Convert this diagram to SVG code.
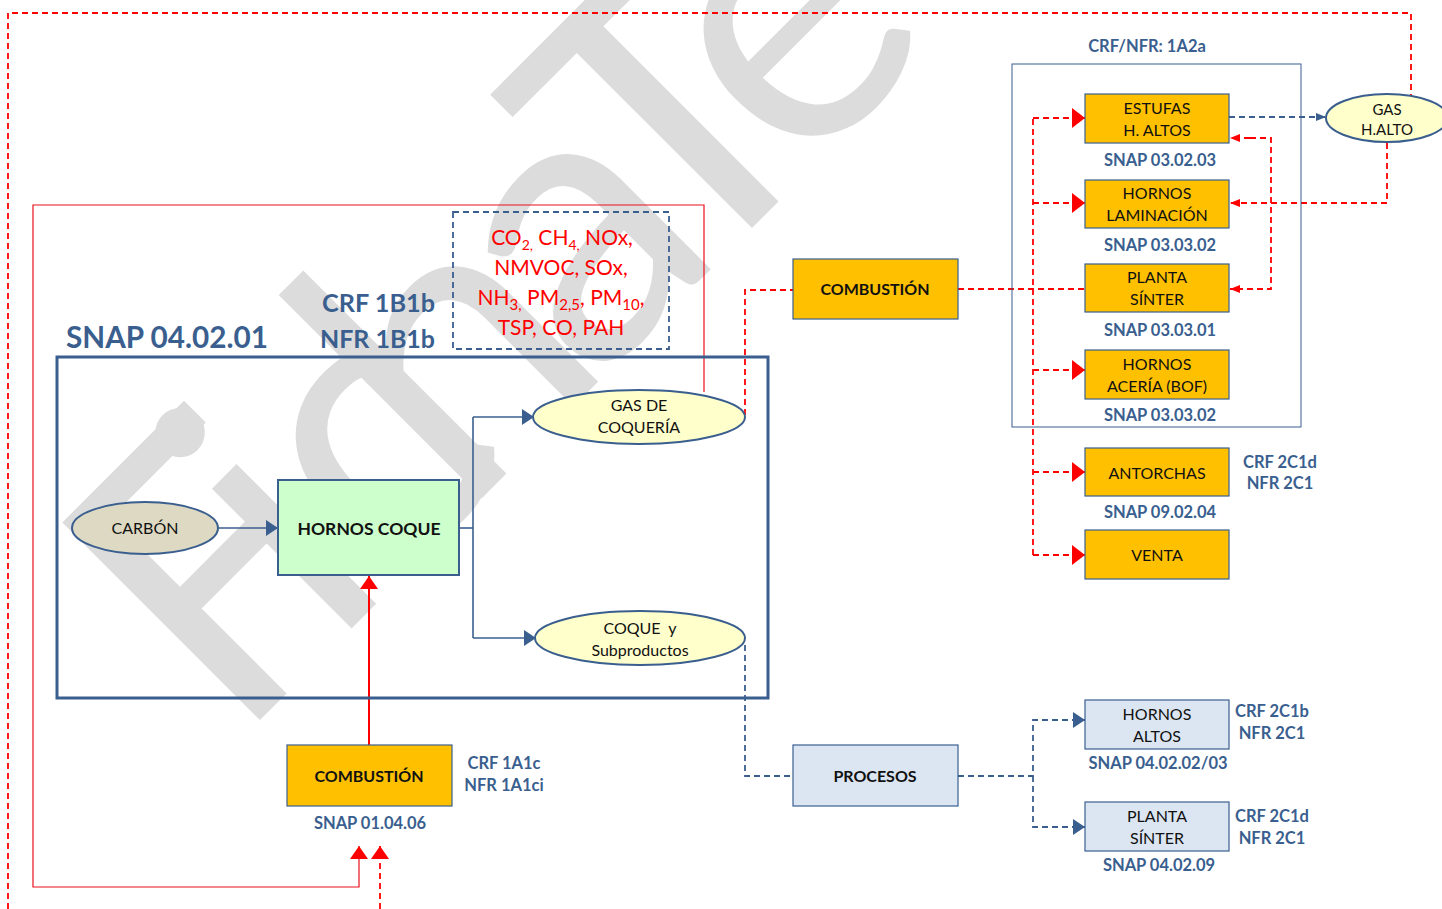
<svg xmlns="http://www.w3.org/2000/svg" width="1442" height="909" viewBox="0 0 1442 909">
<style>
text{font-family:Lato,"Open Sans","Liberation Sans",sans-serif}
.wm{font-size:390px;fill:#dcdcdc}
.nt{font-size:16px;fill:#111;text-anchor:middle}
.nb{font-size:16px;fill:#111;text-anchor:middle;font-weight:bold}
.lb{font-size:16.5px;fill:#3a5f8f;text-anchor:middle;font-weight:bold}
.big{font-weight:bold;fill:#3a5f8f}
.em{font-size:21px;fill:#ff0000;text-anchor:middle}
.orange{fill:#ffc000;stroke:#3a5f8f;stroke-width:1.2}
.lblue{fill:#dce6f2;stroke:#3a5f8f;stroke-width:1.2}
.ell{fill:#ffffcc;stroke:#3a5f8f;stroke-width:2}
.bl{fill:none;stroke:#3a5f8f;stroke-width:1.6}
.bd{fill:none;stroke:#3a5f8f;stroke-width:1.8;stroke-dasharray:6 4}
.rd{fill:none;stroke:#ff0000;stroke-width:1.8;stroke-dasharray:6 4}
.rs{fill:none;stroke:#e8101a;stroke-width:1.2}
</style>
<defs>
<marker id="ab" markerUnits="userSpaceOnUse" viewBox="0 0 12 16" markerWidth="12" markerHeight="16" refX="12" refY="8" orient="auto"><path d="M0 0L12 8L0 16z" fill="#3a5f8f"/></marker>
<marker id="abs" markerUnits="userSpaceOnUse" viewBox="0 0 10 8" markerWidth="10" markerHeight="8" refX="10" refY="4" orient="auto"><path d="M0 0L10 4L0 8z" fill="#3a5f8f"/></marker>
<marker id="ar" markerUnits="userSpaceOnUse" viewBox="0 0 13 20" markerWidth="13" markerHeight="20" refX="13" refY="10" orient="auto"><path d="M0 0L13 10L0 20z" fill="#ff0000"/></marker>
<marker id="ars" markerUnits="userSpaceOnUse" viewBox="0 0 10 8" markerWidth="10" markerHeight="8" refX="10" refY="4" orient="auto"><path d="M0 0L10 4L0 8z" fill="#ff0000"/></marker>
<marker id="aru" markerUnits="userSpaceOnUse" viewBox="0 0 13 18" markerWidth="13" markerHeight="18" refX="13" refY="9" orient="auto"><path d="M0 0L13 9L0 18z" fill="#ff0000"/></marker>
</defs>
<rect width="1442" height="909" fill="#ffffff"/>
<g id="watermark" transform="translate(270,710) rotate(-45)">
<text class="wm"><tspan x="-50" y="0">F</tspan><tspan x="86" y="0">i</tspan><tspan x="168" y="0">c</tspan><tspan x="272" y="0">h</tspan><tspan x="455" y="0">a</tspan><tspan x="585" y="0">T</tspan><tspan x="745" y="0">é</tspan></text>
</g>
<g id="connectors">
<path class="rd" d="M8 909V13H1411V95"/>
<path class="rd" d="M380 909V846" marker-end="url(#aru)"/>
<path class="rs" d="M704 392V205H33V887H359V846" marker-end="url(#aru)"/>
<path fill="none" stroke="#ff0000" stroke-width="2" d="M369 745V576" marker-end="url(#aru)"/>
<path class="bl" d="M218 528H278" marker-end="url(#ab)"/>
<path class="bl" d="M459 528H473"/>
<path class="bl" d="M473 417V638"/>
<path class="bl" d="M473 417H534" marker-end="url(#ab)"/>
<path class="bl" d="M473 638H536" marker-end="url(#ab)"/>
<path class="rd" d="M745 415V290H793"/>
<path class="rd" d="M958 289H1085"/>
<path class="rd" d="M1033 555V118"/>
<path class="rd" d="M1033 118H1085" marker-end="url(#ar)"/>
<path class="rd" d="M1033 203H1085" marker-end="url(#ar)"/>
<path class="rd" d="M1033 370H1085" marker-end="url(#ar)"/>
<path class="rd" d="M1033 472H1085" marker-end="url(#ar)"/>
<path class="rd" d="M1033 555H1085" marker-end="url(#ar)"/>
<path class="bd" d="M1229 117H1326" marker-end="url(#abs)"/>
<path class="rd" d="M1387 143V203H1230" marker-end="url(#ars)"/>
<path class="rd" d="M1250 138H1271V289H1230" marker-end="url(#ars)"/>
<path class="rd" d="M1250 138H1230" marker-end="url(#ars)"/>
<path class="bd" d="M745 645V776H793"/>
<path class="bd" d="M958 776H1033V720H1085" marker-end="url(#ab)"/>
<path class="bd" d="M1033 776V827H1085" marker-end="url(#ab)"/>
</g>
<g id="snap-040201">
<rect x="57" y="357" width="711" height="341" fill="none" stroke="#3a5f8f" stroke-width="3"/>
<text class="big" x="66" y="348" font-size="29.5" textLength="202" lengthAdjust="spacingAndGlyphs">SNAP 04.02.01</text>
<text class="big" x="322" y="312" font-size="25" textLength="113" lengthAdjust="spacingAndGlyphs">CRF 1B1b</text>
<text class="big" x="320" y="348" font-size="25" textLength="115" lengthAdjust="spacingAndGlyphs">NFR 1B1b</text>
</g>
<g id="emisiones">
<rect x="453" y="212" width="216" height="137" fill="none" stroke="#3a5f8f" stroke-width="1.8" stroke-dasharray="6 4"/>
<text class="em" x="562" y="245">CO<tspan font-size="14" dy="5">2,</tspan><tspan dy="-5"> CH</tspan><tspan font-size="14" dy="5">4,</tspan><tspan dy="-5"> NOx,</tspan></text>
<text class="em" x="561" y="275">NMVOC, SOx,</text>
<text class="em" x="561" y="305">NH<tspan font-size="15" dy="5">3,</tspan><tspan dy="-5"> PM</tspan><tspan font-size="15" dy="5">2,5</tspan><tspan dy="-5">, PM</tspan><tspan font-size="15" dy="5">10</tspan><tspan dy="-5">,</tspan></text>
<text class="em" x="561" y="335">TSP, CO, PAH</text>
</g>
<g id="carbon">
<ellipse cx="145" cy="528" rx="73" ry="26" fill="#ddd9c3" stroke="#3a5f8f" stroke-width="2"/>
<text class="nt" x="145" y="534">CARBÓN</text>
</g>
<g id="hornos-coque">
<rect x="278" y="480" width="181" height="95" fill="#ccffcc" stroke="#3a5f8f" stroke-width="2"/>
<text class="nb" x="369" y="535" style="font-size:17.5px">HORNOS COQUE</text>
</g>
<g id="gas-coqueria">
<ellipse class="ell" cx="639" cy="417" rx="106" ry="27"/>
<text class="nt" x="639" y="411">GAS DE</text>
<text class="nt" x="639" y="433">COQUERÍA</text>
</g>
<g id="coque-subproductos">
<ellipse class="ell" cx="640" cy="638" rx="105" ry="27"/>
<text class="nt" x="640" y="634" xml:space="preserve">COQUE  y</text>
<text class="nt" x="640" y="656">Subproductos</text>
</g>
<g id="combustion-1">
<rect class="orange" x="287" y="745" width="165" height="61"/>
<text class="nb" x="369" y="782">COMBUSTIÓN</text>
<text class="lb" x="504" y="769">CRF 1A1c</text>
<text class="lb" x="504" y="791">NFR 1A1ci</text>
<text class="lb" x="370" y="829">SNAP 01.04.06</text>
</g>
<g id="combustion-2">
<rect class="orange" x="793" y="259" width="165" height="60"/>
<text class="nb" x="875" y="295">COMBUSTIÓN</text>
</g>
<g id="procesos">
<rect class="lblue" x="793" y="745" width="165" height="61"/>
<text class="nb" x="875" y="782">PROCESOS</text>
</g>
<g id="grupo-1a2a">
<rect x="1012" y="64" width="289" height="363" fill="none" stroke="#3a5f8f" stroke-width="1"/>
<text class="lb" x="1147" y="52">CRF/NFR: 1A2a</text>
</g>
<g id="estufas">
<rect class="orange" x="1085" y="94" width="144" height="49"/>
<text class="nt" x="1157" y="114">ESTUFAS</text>
<text class="nt" x="1157" y="136">H. ALTOS</text>
<text class="lb" x="1160" y="166">SNAP 03.02.03</text>
</g>
<g id="laminacion">
<rect class="orange" x="1085" y="180" width="144" height="48"/>
<text class="nt" x="1157" y="199">HORNOS</text>
<text class="nt" x="1157" y="221">LAMINACIÓN</text>
<text class="lb" x="1160" y="251">SNAP 03.03.02</text>
</g>
<g id="planta-sinter-1">
<rect class="orange" x="1085" y="264" width="144" height="48"/>
<text class="nt" x="1157" y="283">PLANTA</text>
<text class="nt" x="1157" y="305">SÍNTER</text>
<text class="lb" x="1160" y="336">SNAP 03.03.01</text>
</g>
<g id="aceria">
<rect class="orange" x="1085" y="350" width="144" height="49"/>
<text class="nt" x="1157" y="370">HORNOS</text>
<text class="nt" x="1157" y="392">ACERÍA (BOF)</text>
<text class="lb" x="1160" y="421">SNAP 03.03.02</text>
</g>
<g id="antorchas">
<rect class="orange" x="1085" y="448" width="144" height="48"/>
<text class="nt" x="1157" y="479">ANTORCHAS</text>
<text class="lb" x="1160" y="518">SNAP 09.02.04</text>
<text class="lb" x="1280" y="468">CRF 2C1d</text>
<text class="lb" x="1280" y="489">NFR 2C1</text>
</g>
<g id="venta">
<rect class="orange" x="1085" y="530" width="144" height="49"/>
<text class="nt" x="1157" y="561">VENTA</text>
</g>
<g id="gas-halto">
<ellipse class="ell" cx="1387" cy="118" rx="61" ry="24"/>
<text class="nt" x="1387" y="115" style="font-size:15px">GAS</text>
<text class="nt" x="1387" y="135" style="font-size:15px">H.ALTO</text>
</g>
<g id="hornos-altos">
<rect class="lblue" x="1085" y="700" width="144" height="49"/>
<text class="nt" x="1157" y="720">HORNOS</text>
<text class="nt" x="1157" y="742">ALTOS</text>
<text class="lb" x="1158" y="769">SNAP 04.02.02/03</text>
<text class="lb" x="1272" y="717">CRF 2C1b</text>
<text class="lb" x="1272" y="739">NFR 2C1</text>
</g>
<g id="planta-sinter-2">
<rect class="lblue" x="1085" y="802" width="144" height="49"/>
<text class="nt" x="1157" y="822">PLANTA</text>
<text class="nt" x="1157" y="844">SÍNTER</text>
<text class="lb" x="1159" y="871">SNAP 04.02.09</text>
<text class="lb" x="1272" y="822">CRF 2C1d</text>
<text class="lb" x="1272" y="844">NFR 2C1</text>
</g>
</svg>
